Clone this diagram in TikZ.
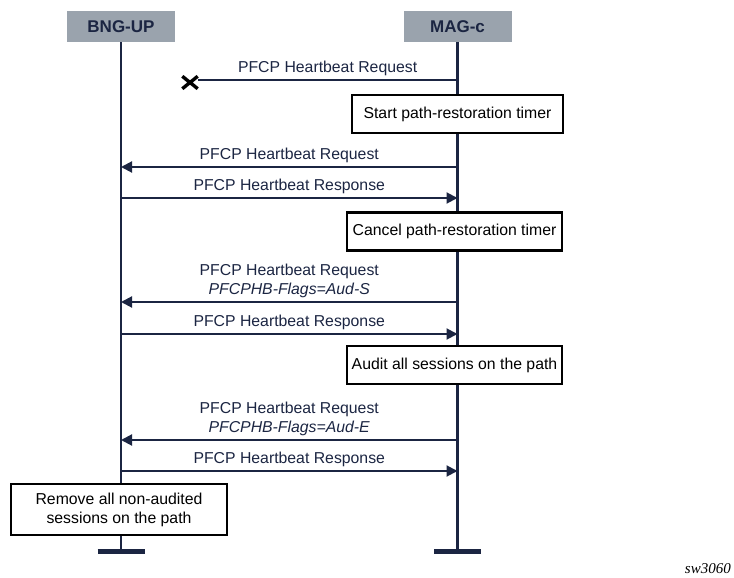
\documentclass[tikz,border=0pt]{standalone}
\usepackage{fontspec}
\setmainfont{Liberation Sans}
\newfontfamily\serifit{Liberation Serif}
\usetikzlibrary{arrows.meta,shapes.misc}
\definecolor{marine}{HTML}{1B2542}
\definecolor{grisbleu}{HTML}{9AA3AD}
\begin{document}
\begin{tikzpicture}[x=1pt,y=-1pt,font=\fontsize{15.8}{19}\selectfont]
\tikzset{entete/.style={fill=grisbleu, text=marine, font=\fontsize{17}{20}\selectfont\bfseries, minimum width=108pt, minimum height=31pt, inner sep=0pt}}
\tikzset{boite/.style={draw=black, fill=white, line width=2.2pt, text=black, minimum height=38pt, inner sep=0pt, align=center}}
\tikzset{vie/.style={draw=marine, line width=2.2pt}}
\tikzset{fin/.style={draw=marine, line width=5pt}}
\tikzset{fleche/.style={draw=marine, line width=2pt, -{Triangle[length=11pt,width=11pt]}}}
\tikzset{texte/.style={above, text=marine, align=center, inner sep=3pt}}
\useasboundingbox (0,0) rectangle (734,578);
% participants
\node[entete] (BNG) at (121,26.5) {BNG-UP};
\node[entete] (MAG) at (457.5,26.5) {MAG-c};
\coordinate (BNGfin) at (121,551);
\coordinate (MAGfin) at (457.5,551);
\draw[vie] (BNG) -- (BNGfin);
\draw[vie] (MAG) -- (MAGfin);
\draw[fin] ([xshift=-23.5pt]BNGfin) -- ([xshift=23.5pt]BNGfin);
\draw[fin] ([xshift=-23.5pt]MAGfin) -- ([xshift=23.5pt]MAGfin);
% lost heartbeat
\coordinate (M1) at (457.5,80);
\node[cross out, draw=black, line width=3.4pt, minimum width=12pt, minimum height=9pt, inner sep=0pt] (X) at (190,82.5) {};
\draw[marine, line width=2pt] (M1) -- node[texte] {PFCP Heartbeat Request} (M1 -| X.east);
\node[boite, minimum width=211pt] (start) at (457.5,114) {Start path-restoration timer};
% heartbeat
\coordinate (M2) at (457.5,167);
\coordinate (B2) at (121,167);
\coordinate (M3) at (457.5,198);
\coordinate (B3) at (121,198);
\draw[fleche] (M2) -- node[texte] {PFCP Heartbeat Request} (B2);
\draw[fleche] (B3) -- node[texte] {PFCP Heartbeat Response} (M3);
\node[boite, minimum width=215pt] (cancel) at (454.5,231.5) {Cancel path-restoration timer};
% audit start
\coordinate (M4) at (457.5,302);
\coordinate (B4) at (121,302);
\coordinate (M5) at (457.5,334);
\coordinate (B5) at (121,334);
\draw[fleche] (M4) -- node[texte] {PFCP Heartbeat Request\\\textit{PFCPHB-Flags=Aud-S}} (B4);
\draw[fleche] (B5) -- node[texte] {PFCP Heartbeat Response} (M5);
\node[boite, minimum width=215pt] (audit) at (454.5,365) {Audit all sessions on the path};
% audit end
\coordinate (M6) at (457.5,440);
\coordinate (B6) at (121,440);
\coordinate (M7) at (457.5,471);
\coordinate (B7) at (121,471);
\draw[fleche] (M6) -- node[texte] {PFCP Heartbeat Request\\\textit{PFCPHB-Flags=Aud-E}} (B6);
\draw[fleche] (B7) -- node[texte] {PFCP Heartbeat Response} (M7);
\node[boite, minimum width=216pt, minimum height=51pt] (remove) at (119,509.5) {Remove all non-audited\\sessions on the path};
\node[anchor=south east, inner sep=0pt, font=\fontsize{15}{18}\selectfont\serifit\itshape] (ref) at (731,574) {sw3060};
\end{tikzpicture}
\end{document}
